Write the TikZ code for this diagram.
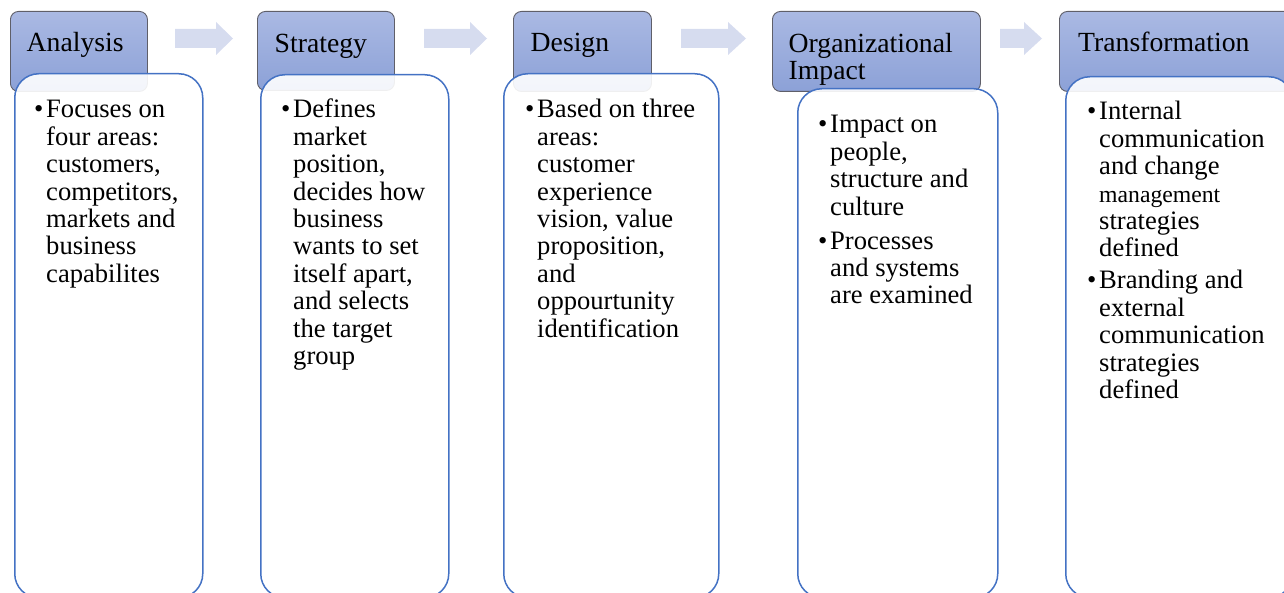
\documentclass[tikz,border=0pt]{standalone}
\usepackage{fontspec}
\setmainfont{Liberation Serif}
\definecolor{hdtop}{RGB}{170,185,227}
\definecolor{hdbot}{RGB}{140,161,215}
\definecolor{hdline}{RGB}{95,95,105}
\definecolor{bdline}{RGB}{68,114,196}
\definecolor{arfill}{RGB}{214,220,239}
\newlength{\bulw}
\setlength{\bulw}{12pt}
\newcommand{\bul}{\makebox[\bulw][l]{•}}
\newcommand{\ind}{\hspace*{\bulw}}
\newcommand{\bodyfont}{\fontsize{26.6}{27.4}\selectfont}
\newcommand{\headfont}{\fontsize{27.7}{26.7}\selectfont}
\tikzset{
  hdr/.style={rectangle, rounded corners=8pt, draw=hdline, line width=0.9pt,
    top color=hdtop, bottom color=hdbot, inner sep=0pt, anchor=north west},
  bodybox/.style={rectangle, rounded corners=24pt, draw=bdline, line width=1.5pt,
    fill=white, fill opacity=0.9, inner sep=0pt, anchor=north west},
  hdtext/.style={anchor=base west, inner sep=0pt, font=\headfont},
  bdtext/.style={anchor=base west, inner sep=0pt, font=\bodyfont},
  blockarrow/.style={fill=arfill, draw=none}
}
\begin{document}
\begin{tikzpicture}[x=1pt, y=-1pt]
\useasboundingbox (0,0) rectangle (1284,593);
\clip (0,0) rectangle (1284,593);

% step headers
\node[hdr, minimum width=137pt, minimum height=80pt] (h1) at (10,11) {};
\node[hdr, minimum width=137pt, minimum height=79pt] (h2) at (257,11) {};
\node[hdr, minimum width=138pt, minimum height=80pt] (h3) at (513,11) {};
\node[hdr, minimum width=208pt, minimum height=80pt] (h4) at (772,11) {};
\node[hdr, minimum width=240pt, minimum height=80pt] (h5) at (1059,11) {};

\node[hdtext] (t1) at (26.5,52) {Analysis};
\node[hdtext] (t2) at (274.5,53) {Strategy};
\node[hdtext] (t3) at (530.5,52) {Design};
\node[hdtext] (t4) at (788.5,53) {\begin{tabular}[t]{@{}l@{}}Organizational\\Impact\end{tabular}};
\node[hdtext] (t5) at (1078,51.5) {Transformation};

% block arrows between the steps
\fill[blockarrow] (175,29) -- (216,29) -- (216,22) -- (233,38.5) -- (216,55) -- (216,48) -- (175,48) -- cycle;
\fill[blockarrow] (424,29) -- (470,29) -- (470,22) -- (487,38.5) -- (470,55) -- (470,48) -- (424,48) -- cycle;
\fill[blockarrow] (681,29) -- (728,29) -- (728,22) -- (746,38.5) -- (728,55) -- (728,48) -- (681,48) -- cycle;
\fill[blockarrow] (1000,29) -- (1024,29) -- (1024,22) -- (1042,38.5) -- (1024,55) -- (1024,48) -- (1000,48) -- cycle;

% detail panels
\node[bodybox, minimum width=188pt, minimum height=524pt] (b1) at (14,73) {};
\node[bodybox, minimum width=188pt, minimum height=523pt] (b2) at (260,74) {};
\node[bodybox, minimum width=215pt, minimum height=524pt] (b3) at (503,73) {};
\node[bodybox, minimum width=200pt, minimum height=509pt] (b4) at (797,88) {};
\node[bodybox, minimum width=227pt, minimum height=521pt] (b5) at (1065,76) {};

\node[bdtext] (d1) at (34,118) {\begin{tabular}[t]{@{}l@{}}
\bul Focuses on\\ \ind four areas:\\ \ind customers,\\ \ind competitors,\\
\ind markets and\\ \ind business\\ \ind capabilites\end{tabular}};

\node[bdtext] (d2) at (281,118) {\begin{tabular}[t]{@{}l@{}}
\bul Defines\\ \ind market\\ \ind position,\\ \ind decides how\\ \ind business\\
\ind wants to set\\ \ind itself apart,\\ \ind and selects\\ \ind the target\\ \ind group\end{tabular}};

\node[bdtext] (d3) at (525,118) {\begin{tabular}[t]{@{}l@{}}
\bul Based on three\\ \ind areas:\\ \ind customer\\ \ind experience\\
\ind vision, value\\ \ind proposition,\\ \ind and\\ \ind oppourtunity\\ \ind identification\end{tabular}};

\node[bdtext] (d4) at (818,133) {\begin{tabular}[t]{@{}l@{}}
\bul Impact on\\ \ind people,\\ \ind structure and\\ \ind culture\\[6.6pt]
\bul Processes\\ \ind and systems\\ \ind are examined\end{tabular}};

\node[bdtext] (d5) at (1087,120) {\begin{tabular}[t]{@{}l@{}}
\bul Internal\\ \ind communication\\ \ind and change\\
\ind {\fontsize{23.7}{27.4}\selectfont management}\\ \ind strategies\\ \ind defined\\[4.6pt]
\bul Branding and\\ \ind external\\ \ind communication\\ \ind strategies\\ \ind defined\end{tabular}};
\end{tikzpicture}
\end{document}
